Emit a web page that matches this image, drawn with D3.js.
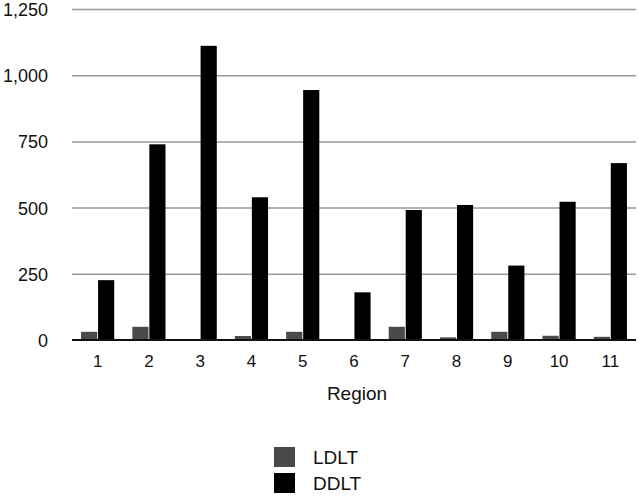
<!DOCTYPE html>
<html>
<head>
<meta charset="utf-8">
<script src="https://cdn.jsdelivr.net/npm/d3@7"></script>
<style>
    body { margin: 0; background: #fff; }
    svg { display: block; font-family: "Liberation Sans", Arial, sans-serif; }
    .grid line { stroke: #999; stroke-width: 1.5; }
    .grid path { display: none; }
</style>
</head>
<body>
<div class="container"></div>
<script>
var regions = ['1', '2', '3', '4', '5', '6', '7', '8', '9', '10', '11'];
var series = ['LDLT', 'DDLT'];
var ldlt = [31, 50, 0, 15, 31, 0, 50, 10, 31, 16, 12];
var ddlt = [226, 739, 1111, 539, 944, 180, 491, 510, 281, 522, 668];
var yTicks = [0, 250, 500, 750, 1000, 1250];
var colors = ['#4a4a4a', '#000000'];

var drawChart = function () {
    var WIDTH = 639, HEIGHT = 496;
    var LEFT = 72, RIGHT = 636, TOP = 9, BOTTOM = 340;

    var svg = d3.select('.container').append('svg')
        .attr('width', WIDTH)
        .attr('height', HEIGHT);

    var x0 = d3.scaleBand().domain(regions).range([LEFT, RIGHT])
        .paddingInner(0.32).paddingOuter(0.16);
    var x1 = d3.scaleBand().domain(series).range([0, x0.bandwidth()]).padding(0.05);
    var y = d3.scaleLinear().domain([0, 1250]).range([BOTTOM, TOP]);
    var color = d3.scaleOrdinal().domain(series).range(colors);

    // gridlines
    svg.append('g')
        .attr('class', 'grid')
        .attr('transform', 'translate(' + LEFT + ',0)')
        .call(d3.axisLeft(y).tickValues(yTicks.slice(1)).tickSize(-(RIGHT - LEFT)).tickFormat(''));

    // y labels
    svg.append('g')
        .selectAll('text')
        .data(yTicks)
        .enter().append('text')
        .attr('x', 48)
        .attr('y', function (d) { return y(d) + 7; })
        .attr('text-anchor', 'end')
        .attr('font-size', 18)
        .attr('fill', '#111')
        .text(d3.format(','));

    var rows = regions.map(function (r, i) {
        return {region: r, values: [ldlt[i], ddlt[i]]};
    });

    var groups = svg.append('g')
        .selectAll('g')
        .data(rows)
        .enter().append('g')
        .attr('transform', function (d) { return 'translate(' + x0(d.region) + ',0)'; });

    groups.selectAll('rect')
        .data(function (d) { return d.values.map(function (v, j) { return {key: series[j], value: v}; }); })
        .enter().append('rect')
        .attr('x', function (d) { return x1(d.key); })
        .attr('width', x1.bandwidth())
        .attr('y', function (d) { return y(d.value); })
        .attr('height', function (d) { return BOTTOM - y(d.value); })
        .attr('fill', function (d) { return color(d.key); });

    // baseline
    svg.append('line')
        .attr('x1', LEFT).attr('x2', RIGHT)
        .attr('y1', y(0)).attr('y2', y(0))
        .attr('stroke', '#111')
        .attr('stroke-width', 2);

    // x labels
    svg.append('g')
        .selectAll('text')
        .data(regions)
        .enter().append('text')
        .attr('x', function (d) { return x0(d) + x0.bandwidth() / 2; })
        .attr('y', 367)
        .attr('text-anchor', 'middle')
        .attr('font-size', 17)
        .attr('fill', '#111')
        .text(function (d) { return d; });

    svg.append('text')
        .attr('x', 357)
        .attr('y', 400)
        .attr('text-anchor', 'middle')
        .attr('font-size', 19)
        .attr('fill', '#111')
        .text('Region');

    // legend
    var legend = svg.append('g')
        .selectAll('g')
        .data(series)
        .enter().append('g')
        .attr('transform', function (d, i) { return 'translate(274,' + (447 + i * 26) + ')'; });

    legend.append('rect')
        .attr('width', 21)
        .attr('height', 20)
        .attr('fill', function (d) { return color(d); });

    legend.append('text')
        .attr('x', 39)
        .attr('y', 17)
        .attr('font-size', 19)
        .attr('fill', '#111')
        .text(function (d) { return d; });
};

window.onload = drawChart;
</script>
</body>
</html>
